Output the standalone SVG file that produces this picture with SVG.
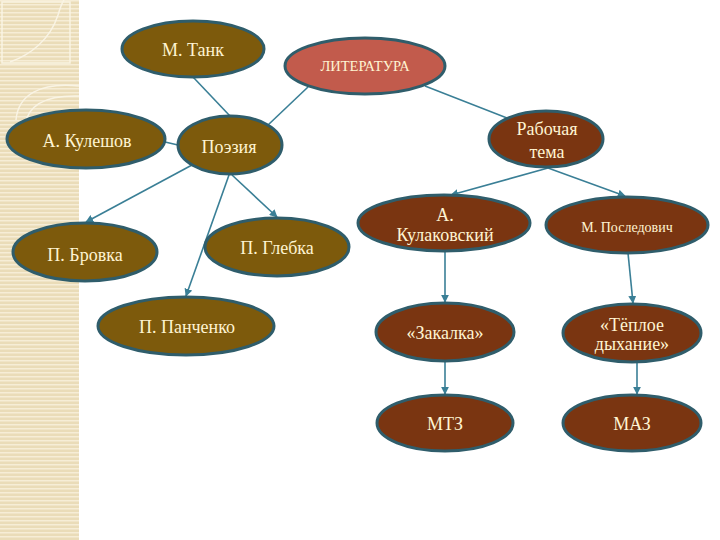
<svg xmlns="http://www.w3.org/2000/svg" width="720" height="540" viewBox="0 0 720 540">
<defs>
<pattern id="stripes" width="8" height="4" patternUnits="userSpaceOnUse">
<rect width="8" height="4" fill="#eadcb8"/>
<rect y="0" width="8" height="1.5" fill="#f6edd6"/>
</pattern>
<marker id="arr" viewBox="0 0 10 10" refX="9" refY="5" markerWidth="5" markerHeight="5" orient="auto">
<path d="M0,0 L10,5 L0,10 z" fill="#3a7f96"/>
</marker>
<style>
.n1{fill:#7d5a0c;stroke:#2f5d6b;stroke-width:3}
.n2{fill:#7a3511;stroke:#2f5d6b;stroke-width:3}
.lit{fill:#c25b4c;stroke:#2f5d6b;stroke-width:3}
.t{font-family:'Liberation Serif','DejaVu Serif',serif;font-size:18px;fill:#fff4d2;text-anchor:middle}
.c{stroke:#3a7f96;stroke-width:1.6;fill:none}
.ca{stroke:#3a7f96;stroke-width:1.6;fill:none;marker-end:url(#arr)}
</style>
</defs>
<rect width="720" height="540" fill="#ffffff"/>
<rect x="0" y="0" width="79" height="540" fill="url(#stripes)"/>
<g fill="none" stroke="#fbf6e8" stroke-width="1.5" opacity="0.9">
<path d="M2,2 L70,2 L70,63 L2,63 z"/>
<path d="M10,62 C30,55 50,40 58,15 C60,8 62,3 64,0"/>
<path d="M16,120 C18,95 40,82 79,86"/>
<path d="M25,125 C28,105 45,95 79,96"/>
</g>
<g id="connectors">
<line class="c" x1="193" y1="77" x2="230" y2="116"/>
<line class="c" x1="308" y1="87" x2="268" y2="125"/>
<line class="c" x1="425" y1="86" x2="507" y2="118"/>
<line class="c" x1="165" y1="142" x2="178" y2="145"/>
<line class="ca" x1="192" y1="165" x2="86" y2="222"/>
<line class="ca" x1="229" y1="175" x2="186" y2="296"/>
<line class="ca" x1="232" y1="175" x2="277" y2="217"/>
<line class="ca" x1="548" y1="168" x2="451" y2="195"/>
<line class="ca" x1="548" y1="168" x2="625" y2="196"/>
<line class="ca" x1="445" y1="252" x2="445" y2="302"/>
<line class="ca" x1="628" y1="253" x2="633" y2="303"/>
<line class="ca" x1="445" y1="362" x2="445" y2="394"/>
<line class="ca" x1="637" y1="354" x2="637" y2="394"/>
</g>
<g id="tank"><ellipse class="n1" cx="193" cy="49" rx="71" ry="28"/><text class="t" x="193" y="56">М. Танк</text></g>
<g id="literatura"><ellipse class="lit" cx="365" cy="66" rx="80" ry="28"/><text class="t" x="365" y="71" style="font-size:14.5px">ЛИТЕРАТУРА</text></g>
<g id="kuleshov"><ellipse class="n1" cx="86" cy="139" rx="79" ry="29"/><text class="t" x="87" y="147">А. Кулешов</text></g>
<g id="poeziya"><ellipse class="n1" cx="230" cy="145" rx="52" ry="29"/><text class="t" x="229" y="153">Поэзия</text></g>
<g id="rabochaya"><ellipse class="n2" cx="546" cy="139" rx="57" ry="28"/><text class="t" x="547" y="135">Рабочая</text><text class="t" x="547" y="158">тема</text></g>
<g id="brovka"><ellipse class="n1" cx="85" cy="252" rx="72" ry="29"/><text class="t" x="85" y="261">П. Бровка</text></g>
<g id="glebka"><ellipse class="n1" cx="277" cy="247" rx="72" ry="29"/><text class="t" x="277" y="254">П. Глебка</text></g>
<g id="panchenko"><ellipse class="n1" cx="186" cy="326" rx="88" ry="29"/><text class="t" x="187" y="333">П. Панченко</text></g>
<g id="kulakovsky"><ellipse class="n2" cx="444" cy="223" rx="86" ry="28"/><text class="t" x="445" y="221">А.</text><text class="t" x="445" y="241">Кулаковский</text></g>
<g id="posledovich"><ellipse class="n2" cx="627" cy="225" rx="81" ry="28"/><text class="t" x="627" y="232" style="font-size:14px">М. Последович</text></g>
<g id="zakalka"><ellipse class="n2" cx="445" cy="332" rx="69" ry="29"/><text class="t" x="445" y="339">«Закалка»</text></g>
<g id="teploe"><ellipse class="n2" cx="632" cy="333" rx="69" ry="29"/><text class="t" x="632" y="331">«Тёплое</text><text class="t" x="632" y="350">дыхание»</text></g>
<g id="mtz"><ellipse class="n2" cx="445" cy="423" rx="68" ry="28"/><text class="t" x="445" y="430">МТЗ</text></g>
<g id="maz"><ellipse class="n2" cx="632" cy="423" rx="69" ry="28"/><text class="t" x="632" y="430">МАЗ</text></g>
</svg>
